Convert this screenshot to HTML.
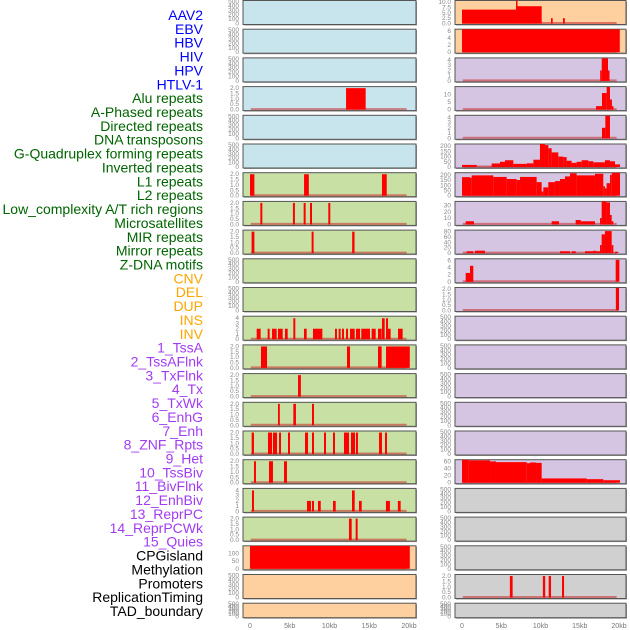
<!DOCTYPE html>
<html><head><meta charset="utf-8"><style>
html,body{margin:0;padding:0;background:#fff;}
svg{display:block;font-family:"Liberation Sans",sans-serif;}
</style></head><body>
<svg id="chart" width="630" height="630" viewBox="0 0 630 630" xmlns="http://www.w3.org/2000/svg"></svg>
<script>
// ---------- labels ----------
const trackLabels = ["AAV2","EBV","HBV","HIV","HPV","HTLV-1","Alu repeats","A-Phased repeats","Directed repeats","DNA transposons","G-Quadruplex forming repeats","Inverted repeats","L1 repeats","L2 repeats","Low_complexity A/T rich regions","Microsatellites","MIR repeats","Mirror repeats","Z-DNA motifs","CNV","DEL","DUP","INS","INV","1_TssA","2_TssAFlnk","3_TxFlnk","4_Tx","5_TxWk","6_EnhG","7_Enh","8_ZNF_Rpts","9_Het","10_TssBiv","11_BivFlnk","12_EnhBiv","13_ReprPC","14_ReprPCWk","15_Quies","CPGisland","Methylation","Promoters","ReplicationTiming","TAD_boundary"];
const labelColors = ["#0000ff","#0000ff","#0000ff","#0000ff","#0000ff","#0000ff","#006400","#006400","#006400","#006400","#006400","#006400","#006400","#006400","#006400","#006400","#006400","#006400","#006400","#ffa500","#ffa500","#ffa500","#ffa500","#ffa500","#a23cf2","#a23cf2","#a23cf2","#a23cf2","#a23cf2","#a23cf2","#a23cf2","#a23cf2","#a23cf2","#a23cf2","#a23cf2","#a23cf2","#a23cf2","#a23cf2","#a23cf2","#000000","#000000","#000000","#000000","#000000"];
const xTickValues = [0,5,10,15,20];
const xTickLabels = ["0","5kb","10kb","15kb","20kb"];

// ---------- tick label sets ----------
const ticksEmpty = ["0","100","200","300","400","500"];
const ticksTwo = ["0.0","0.5","1.0","1.5","2.0"];
const ticksFour = ["0","1","2","3","4"];
const ticksCpg = ["0","50","100"];
const ticksAav = ["0.0","2.5","5.0","7.5","10.0"];
const ticksSix = ["0","2","4","6"];
const ticksTen = ["0","5","10"];
const ticksTwoHundred = ["0","50","100","150","200"];
const ticksThirty = ["0","10","20","30"];
const ticksEighty = ["0","20","40","60","80"];
const ticksSixty = ["0","20","40","60"];

// ---------- column 1 data: [startKb, endKb, value] ----------
const c1Alu = [[12.08,14.55,2]];
const c1L1 = [[0,0.55,2],[6.8,7.4,2],[16.6,17.2,2]];
const c1L2 = [[1.3,1.55,2],[5.4,5.65,2],[6.75,7.0,2],[7.55,7.8,2],[9.85,10.1,2]];
const c1LowComplexity = [[0.2,0.55,2],[7.75,8.0,2],[12.85,13.15,2]];
const c1Ins = [[0.84,1.34,2],[2.22,2.47,2],[2.77,3.35,2],[3.52,4.11,2],[4.40,4.74,2],[5.45,5.70,4],[6.79,7.13,2],[7.92,9.10,2],[10.69,10.94,2],[11.15,11.40,2],[11.57,11.82,2],[12.08,12.33,2],[12.58,13.17,2],[13.33,13.84,2],[14.0,15.09,2],[15.30,15.81,2],[16.10,16.56,2],[16.60,16.94,4],[17.11,17.36,4],[17.36,17.69,2],[18.62,19.20,2]];
const c1TssA = [[1.38,2.14,2],[12.2,12.58,2],[16.10,16.56,2],[17.11,20.1,2]];
const c1TssAFlnk = [[6.04,6.4,2]];
const c1TxFlnk = [[3.52,3.75,2],[5.45,5.78,2],[7.8,8.05,2]];
const c1Tx = [[0.21,0.5,2],[2.26,2.77,2],[2.89,3.40,2],[3.65,3.90,2],[4.78,5.03,2],[6.92,7.30,2],[7.80,8.05,2],[9.31,9.56,2],[10.44,10.69,2],[11.82,12.45,2],[12.70,13.21,2],[13.33,13.58,2],[16.23,16.60,2],[16.98,17.23,2]];
const c1TxWk = [[0.5,0.75,2],[2.39,2.89,2],[4.28,4.65,2]];
const c1EnhG = [[0.25,0.5,4],[7.17,7.67,2],[7.8,8.05,2],[8.55,8.9,2],[10.44,10.78,2],[12.83,13.17,4],[13.71,14.05,2],[17.1,17.6,2],[18.6,18.95,2]];
const c1Enh = [[12.45,12.79,2],[13.29,13.54,2]];
const c1Cpg = [[0,20.1,150]];

// ---------- column 2 data ----------
const c2Aav = [[0,6.88,6.5],[6.88,7.05,12],[7.05,10.15,8.1],[11.34,11.55,2.5],[12.87,13.1,2.5]];
const c2Ebv = [[0,20.1,6.5]];
const c2Hbv = [[17.6,17.8,2],[17.8,18.6,4.3],[18.6,18.75,2]];
const c2Hiv = [[17.07,17.83,2.3],[17.83,18.43,11],[18.43,18.85,15],[18.85,19.1,6.7],[19.1,19.27,2.3]];
const c2Hpv = [[17.83,18.26,2],[18.26,18.85,4.3]];
const c2Htlv = [[0,1.87,20],[1.87,3.78,2],[3.78,4.84,34],[4.84,5.48,50],[5.48,6.54,65],[6.54,8.24,30],[8.24,9.09,35],[9.09,9.93,70],[9.93,10.57,225],[10.57,11.0,210],[11.0,11.42,180],[11.42,12.27,140],[12.27,12.91,100],[12.91,13.33,95],[13.33,13.97,60],[13.97,14.6,40],[14.6,15.24,50],[15.24,16.09,65],[16.09,16.73,55],[16.73,17.58,45],[17.58,18.21,45],[18.21,18.85,65],[18.85,19.49,55],[19.49,20.13,25]];
const c2Alu = [[0,1.02,178],[1.02,1.23,172],[1.23,3.99,195],[3.99,5.69,180],[5.69,6.96,160],[6.96,7.39,150],[7.39,9.51,180],[9.51,10.15,130],[10.15,10.36,40],[10.36,10.99,80],[10.99,11.84,130],[11.84,12.48,140],[12.48,13.12,160],[13.12,13.76,185],[13.76,14.6,215],[14.6,16.94,195],[16.94,18.0,210],[18.0,18.21,90],[18.21,18.42,70],[18.42,18.85,120],[18.85,19.07,200],[19.07,20.13,225]];
const c2APhased = [[0.47,1.53,5],[11.42,12.36,5],[14.48,15.12,7],[15.12,16.94,5],[17.58,17.79,10],[17.79,18.42,40],[18.42,18.85,35],[18.85,19.07,15],[19.07,19.28,5]];
const c2Directed = [[0.6,1.44,7],[1.66,2.93,9],[12.48,13.76,7],[13.97,14.48,7],[15.67,16.73,7],[16.73,17.03,9],[17.03,17.58,7],[17.58,17.79,30],[17.79,18.21,70],[18.21,19.07,82],[19.07,19.28,30],[19.49,19.92,5]];
const c2DnaTransposons = [[0.47,1.02,2.5],[1.02,1.44,4.5],[19.58,20.05,6.2]];
const c2GQuad = [[19.6,20.0,2.1]];
const c2L1 = [[0,0.85,66],[0.85,3.57,63],[3.57,4.33,60],[4.33,8.24,58],[8.24,8.66,55],[8.66,9.43,57],[9.43,10.15,56],[10.15,15.88,12],[15.88,18.0,10],[18.0,20.13,7]];
const c2Rep = [[6.1,6.45,2],[10.3,10.6,2],[11.04,11.34,2],[12.74,13.0,2]];

const BLUE="#c8e4ec", GREEN="#c8e0a4", ORANGE="#fecf9f", PURPLE="#d5c5e2", GRAY="#d0d0d0";
const panels = [
 // col, row, name, bg, ymax, ticks, data
 [0,1,"aav2",BLUE,500,ticksEmpty,null],[0,2,"ebv",BLUE,500,ticksEmpty,null],[0,3,"hbv",BLUE,500,ticksEmpty,null],
 [0,4,"hiv",BLUE,2.05,ticksTwo,c1Alu],[0,5,"hpv",BLUE,500,ticksEmpty,null],[0,6,"htlv",BLUE,500,ticksEmpty,null],
 [0,7,"alu",GREEN,2.05,ticksTwo,c1L1],[0,8,"a-phased",GREEN,2.05,ticksTwo,c1L2],[0,9,"directed",GREEN,2.05,ticksTwo,c1LowComplexity],
 [0,10,"dna-transposons",GREEN,500,ticksEmpty,null],[0,11,"g-quad",GREEN,500,ticksEmpty,null],
 [0,12,"inverted",GREEN,4.2,ticksFour,c1Ins],[0,13,"l1",GREEN,2.05,ticksTwo,c1TssA],[0,14,"l2",GREEN,2.05,ticksTwo,c1TssAFlnk],
 [0,15,"low-complexity",GREEN,2.05,ticksTwo,c1TxFlnk],[0,16,"microsatellites",GREEN,2.05,ticksTwo,c1Tx],[0,17,"mir",GREEN,2.05,ticksTwo,c1TxWk],
 [0,18,"mirror",GREEN,4.2,ticksFour,c1EnhG],[0,19,"z-dna",GREEN,2.05,ticksTwo,c1Enh],
 [0,20,"cpg",ORANGE,143,ticksCpg,c1Cpg],[0,21,"methylation",ORANGE,500,ticksEmpty,null],[0,22,"promoters",ORANGE,500,ticksEmpty,null],
 [1,1,"aav2",ORANGE,10.3,ticksAav,c2Aav],[1,2,"ebv",ORANGE,6.2,ticksSix,c2Ebv],[1,3,"hbv",PURPLE,4.2,ticksFour,c2Hbv],
 [1,4,"hiv",PURPLE,14.6,ticksTen,c2Hiv],[1,5,"hpv",PURPLE,4.2,ticksFour,c2Hpv],[1,6,"htlv",PURPLE,211,ticksTwoHundred,c2Htlv],
 [1,7,"alu",PURPLE,211,ticksTwoHundred,c2Alu],[1,8,"a-phased",PURPLE,35,ticksThirty,c2APhased],[1,9,"directed",PURPLE,82,ticksEighty,c2Directed],
 [1,10,"dna-transposons",PURPLE,6.2,ticksSix,c2DnaTransposons],[1,11,"g-quad",PURPLE,2.05,ticksTwo,c2GQuad],
 [1,12,"inverted",PURPLE,500,ticksEmpty,null],[1,13,"l1",PURPLE,500,ticksEmpty,null],[1,14,"l2",PURPLE,500,ticksEmpty,null],
 [1,15,"low-complexity",PURPLE,500,ticksEmpty,null],[1,16,"microsatellites",PURPLE,500,ticksEmpty,null],
 [1,17,"mir",PURPLE,62,ticksSixty,c2L1],[1,18,"mirror",GRAY,500,ticksEmpty,null],[1,19,"z-dna",GRAY,500,ticksEmpty,null],
 [1,20,"cnv",GRAY,500,ticksEmpty,null],[1,21,"del",GRAY,2.05,ticksTwo,c2Rep],[1,22,"dup",GRAY,500,ticksEmpty,null]
];

const svg = document.getElementById('chart');
const NS = "http://www.w3.org/2000/svg";
function mk(tag, attrs, parent){ const e=document.createElementNS(NS,tag); for(const k in attrs) e.setAttribute(k,attrs[k]); (parent||svg).appendChild(e); return e; }

const colLeft=[243,455], colRight=[416,626], kb0=[250,462], kbScale=[7.95,7.85];
function xScale(col,kb){ return kb0[col]+kb*kbScale[col]; }
function panelTop(row){ return 28.7*(row-1)+0.5; }
function panelH(row){ return row===22 ? 14.5 : 24; }

// labels
trackLabels.forEach((t,i)=>{
  const el = mk('text',{x:203,y:20+13.86*i,'text-anchor':'end','font-size':14,fill:labelColors[i]});
  el.textContent=t;
  
  
});

panels.forEach(p=>{
  const [col,row,name,bg,ymax,ticks,data]=p;
  const top=panelTop(row), h=panelH(row), L=colLeft[col], R=colRight[col];
  const g = mk('g',{});
  
  
  const clipId='clip'+col+'_'+row;
  const cp=mk('clipPath',{id:clipId},g); mk('rect',{x:L,y:top,width:R-L,height:h},cp);
  const bgr = mk('rect',{x:L+1,y:top+1,width:R-L,height:h,fill:'#999'},g);
  const r = mk('rect',{x:L,y:top,width:R-L,height:h,fill:bg,stroke:'#555','stroke-width':1},g);
  
  
  const y0=top+h-1, y1=top+1;
  const yScale=v=>y0-(v/ymax)*(y0-y1);
  // ticks
  const n=ticks.length;
  ticks.forEach((t,i)=>{
    const v = parseFloat(t);
    const ty = yScale(v)+2;
    const tx = mk('text',{x:L-4,y:Math.min(ty,top+h+2),'text-anchor':'end','font-size':6.5,fill:'#888'},g);
    tx.textContent=t;
    
    
  });
  if(data){
    const dg=mk('g',{'clip-path':'url(#'+clipId+')'},g);
    mk('line',{x1:xScale(col,0.1),x2:xScale(col,19.7),y1:y0-0.5,y2:y0-0.5,stroke:'rgba(200,40,40,0.55)','stroke-width':2},dg);
    data.forEach(d=>{
      const x1=xScale(col,d[0]), x2=xScale(col,d[1]), yt=yScale(d[2]);
      const b=mk('rect',{x:x1,y:yt,width:Math.max(x2-x1,1.5),height:y0-yt,fill:'#ff0000'},dg);
      
      
    });
  }
});

// x axes
[0,1].forEach(col=>{
  xTickValues.forEach((v,i)=>{
    const t=mk('text',{x:xScale(col,v),y:628,'text-anchor':'middle','font-size':7,fill:'#777'});
    t.textContent=xTickLabels[i];
    
    
  });
});
</script>
</body></html>
